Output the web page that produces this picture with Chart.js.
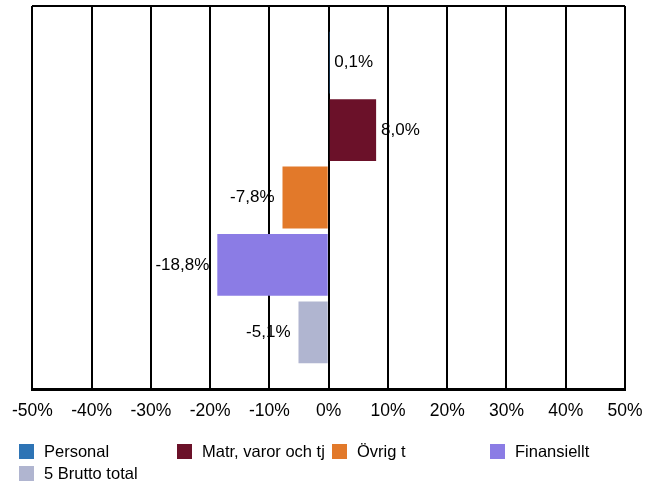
<!DOCTYPE html>
<html>
<head>
<meta charset="utf-8">
<script src="https://cdn.jsdelivr.net/npm/chart.js@4"></script>
<style>
    body { margin: 0; background: #fff; font-family: "Liberation Sans", Arial, sans-serif; }
    #wrap { position: relative; width: 656px; height: 486px; }
    #legend { position: absolute; left: 0; top: 0; width: 656px; height: 486px; pointer-events: none; }
    .item { position: absolute; display: flex; align-items: center; font-size: 16.5px; color: #000; white-space: nowrap; }
    .box { width: 15px; height: 15px; margin-right: 10px; }
</style>
</head>
<body>
<div id="wrap">
    <canvas id="chart" width="656" height="486"></canvas>
    <div id="legend"></div>
</div>
<script>
// Series (one bar each)
const seriesNames = ['Personal', 'Matr, varor och tj', 'Övrig t', 'Finansiellt', '5 Brutto total'];
const seriesValues = [0.1, 8.0, -7.8, -18.8, -5.1];
const seriesColors = ['#2E74B5', '#6B1129', '#E2792A', '#8B7CE5', '#B0B5D0'];
const xTicks = [-50, -40, -30, -20, -10, 0, 10, 20, 30, 40, 50];

// legend slots (left, top) like the original layout
const legendSlots = [[19, 444], [177, 444], [332, 444], [490, 444], [19, 466]];

function fmt(v) {
    return v.toFixed(1).replace('.', ',') + '%';
}

// value labels at the end of each bar
const barLabels = {
    id: 'barLabels',
    afterDatasetsDraw(chart) {
        const ctx = chart.ctx;
        ctx.save();
        ctx.font = '17px "Liberation Sans", Arial, sans-serif';
        ctx.fillStyle = '#000';
        ctx.textBaseline = 'middle';
        chart.data.datasets.forEach((ds, i) => {
            const bar = chart.getDatasetMeta(i).data[0];
            const v = ds.data[0];
            if (v >= 0) {
                ctx.textAlign = 'left';
                ctx.fillText(fmt(v), bar.x + 5, bar.y);
            } else {
                ctx.textAlign = 'right';
                ctx.fillText(fmt(v), bar.x - 8, bar.y);
            }
        });
        ctx.restore();
    }
};

const chart = new Chart(document.getElementById('chart'), {
    type: 'bar',
    data: {
        labels: [''],
        datasets: seriesNames.map((name, i) => ({
            label: name,
            data: [seriesValues[i]],
            backgroundColor: seriesColors[i],
            borderWidth: 0,
            categoryPercentage: 0.88,
            barPercentage: 0.917
        }))
    },
    options: {
        indexAxis: 'y',
        responsive: false,
        animation: false,
        layout: {
            padding: { left: 31, right: 31, top: 6, bottom: 52 }
        },
        plugins: {
            legend: { display: false },
            tooltip: { enabled: false }
        },
        scales: {
            x: {
                min: -50,
                max: 50,
                afterBuildTicks: (axis) => { axis.ticks = xTicks.map(v => ({ value: v })); },
                ticks: {
                    callback: (v) => v + '%',
                    color: '#000',
                    padding: 12,
                    maxRotation: 0,
                    font: { size: 17.5, family: '"Liberation Sans", Arial, sans-serif' }
                },
                grid: { color: '#000', lineWidth: 2, drawTicks: false },
                border: { color: '#000', width: 3 }
            },
            y: {
                ticks: { display: false },
                grid: { color: '#000', lineWidth: 2, drawTicks: false },
                border: { display: false }
            }
        }
    },
    plugins: [barLabels]
});

// HTML legend
const legend = document.getElementById('legend');
seriesNames.forEach((name, i) => {
    const item = document.createElement('div');
    item.className = 'item';
    item.style.left = legendSlots[i][0] + 'px';
    item.style.top = legendSlots[i][1] + 'px';
    item.style.height = '15px';
    const box = document.createElement('span');
    box.className = 'box';
    box.style.background = seriesColors[i];
    const txt = document.createElement('span');
    txt.textContent = name;
    item.appendChild(box);
    item.appendChild(txt);
    legend.appendChild(item);
});
</script>
</body>
</html>
